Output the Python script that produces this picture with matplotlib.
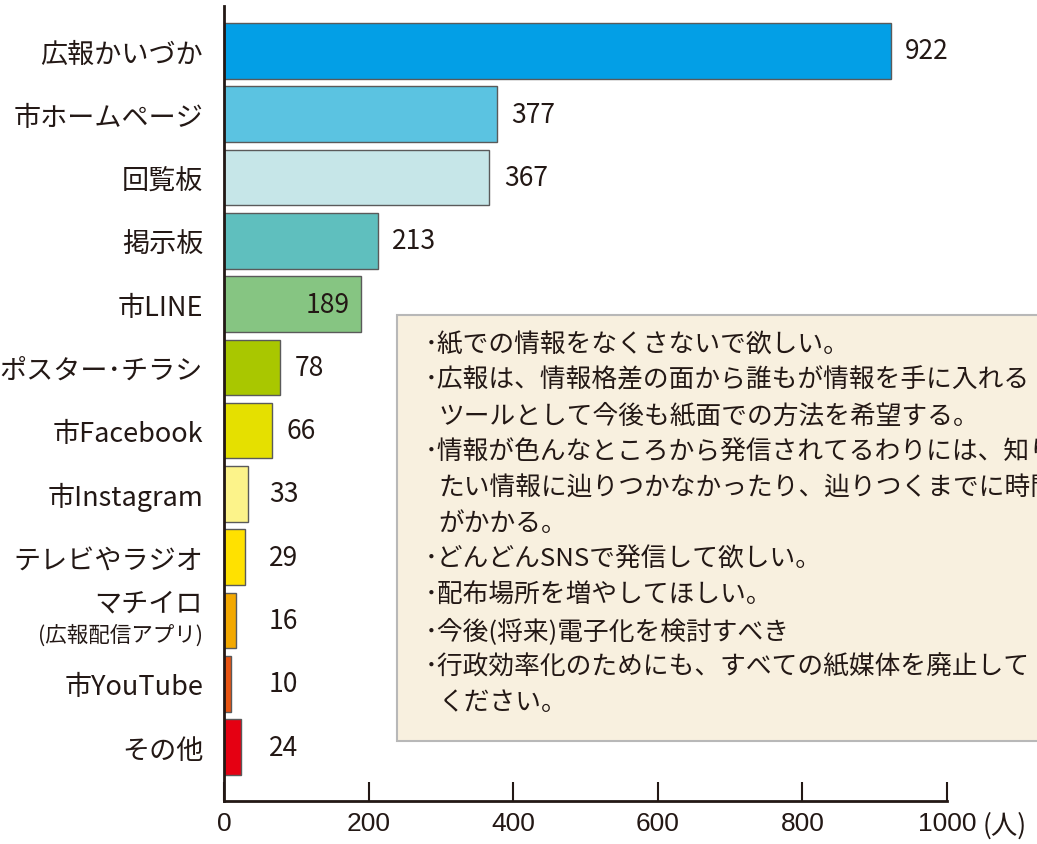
import matplotlib.pyplot as plt
from matplotlib.patches import Rectangle
import numpy as np

plt.rcParams['font.family'] = ['Noto Sans CJK JP', 'DejaVu Sans']

categories = ['広報かいづか', '市ホームページ', '回覧板', '掲示板', '市LINE',
              'ポスター･チラシ', '市Facebook', '市Instagram', 'テレビやラジオ',
              'マチイロ', '市YouTube', 'その他']
sub_label = '(広報配信アプリ)'
values = [922, 377, 367, 213, 189, 78, 66, 33, 29, 16, 10, 24]
colors = ['#039FE6', '#5BC3E1', '#C6E6E8', '#5FBFBE', '#86C582', '#A9C700',
          '#E5E000', '#FCF38A', '#FFE100', '#F3A800', '#E85412', '#E50012']
inside_label = ['市LINE']
xticks = [0, 200, 400, 600, 800, 1000]
unit = '(人)'

comments = [
    '紙での情報をなくさないで欲しい。',
    '広報は、情報格差の面から誰もが情報を手に入れる\nツールとして今後も紙面での方法を希望する。',
    '情報が色んなところから発信されてるわりには、知り\nたい情報に辿りつかなかったり、辿りつくまでに時間\nがかかる。',
    'どんどんSNSで発信して欲しい。',
    '配布場所を増やしてほしい。',
    '今後(将来)電子化を検討すべき',
    '行政効率化のためにも、すべての紙媒体を廃止して\nください。',
]

dark = '#231815'
W, H = 1037, 845
num_font = ['Liberation Sans', 'DejaVu Sans']

fig = plt.figure(figsize=(W / 100, H / 100), dpi=100)
ax = fig.add_axes([224 / W, 43 / H, (947 - 224) / W, (838 - 43) / H])

y = np.arange(len(categories))
ax.barh(y, values, height=0.88, color=colors, edgecolor='#5a5a5a', linewidth=1, zorder=2)
ax.set_xlim(0, 1000)
ax.set_ylim(len(categories) - 1 + 0.853, -0.711)

for s in ['top', 'right']:
    ax.spines[s].set_visible(False)
for s in ['left', 'bottom']:
    ax.spines[s].set_color(dark)
    ax.spines[s].set_linewidth(2)

ax.set_xticks(xticks)
ax.set_xticklabels([str(t) for t in xticks], family=num_font, fontsize=19, color=dark)
ax.tick_params(axis='x', direction='in', length=14, width=1.5, color=dark, pad=7)

labels = [c if c != 'マチイロ' else '' for c in categories]
ax.set_yticks(y)
ax.set_yticklabels(labels, fontsize=19.5, color=dark)
ax.tick_params(axis='y', length=0, pad=15)

# two-line label for マチイロ
i = categories.index('マチイロ')
tr = ax.get_yaxis_transform()
ax.text(-21 / 723, i - 0.28, 'マチイロ', transform=tr, ha='right', va='center',
        fontsize=19.5, color=dark)
ax.text(-21 / 723, i + 0.22, sub_label, transform=tr, ha='right', va='center',
        fontsize=15.5, color=dark)

# value labels
for k, (c, v) in enumerate(zip(categories, values)):
    if c in inside_label:
        ax.text(v - 15, k, str(v), ha='right', va='center', fontsize=19, color=dark, zorder=3)
    else:
        ax.text(max(v + 20, 62), k, str(v), ha='left', va='center', fontsize=19, color=dark)

fig.text(983 / W, 1 - 826 / H, unit, ha='left', va='center', fontsize=19, color=dark)

# comment box
box = Rectangle((397 / W, (H - 742) / H), (W - 397 + 20) / W, (742 - 316) / H,
                transform=fig.transFigure, facecolor='#F8F0DF', edgecolor='#B8B8B8',
                linewidth=1.5, zorder=1)
fig.add_artist(box)

line_y = 345
for cm in comments:
    for j, p in enumerate(cm.split('\n')):
        if j == 0:
            fig.text(425 / W, 1 - line_y / H, '･' + p, ha='left', va='center',
                     fontsize=18.5, color=dark, zorder=2)
        else:
            fig.text(438 / W, 1 - line_y / H, p, ha='left', va='center',
                     fontsize=18.5, color=dark, zorder=2)
        line_y += 35.8

fig.savefig('out.png', dpi=100)
